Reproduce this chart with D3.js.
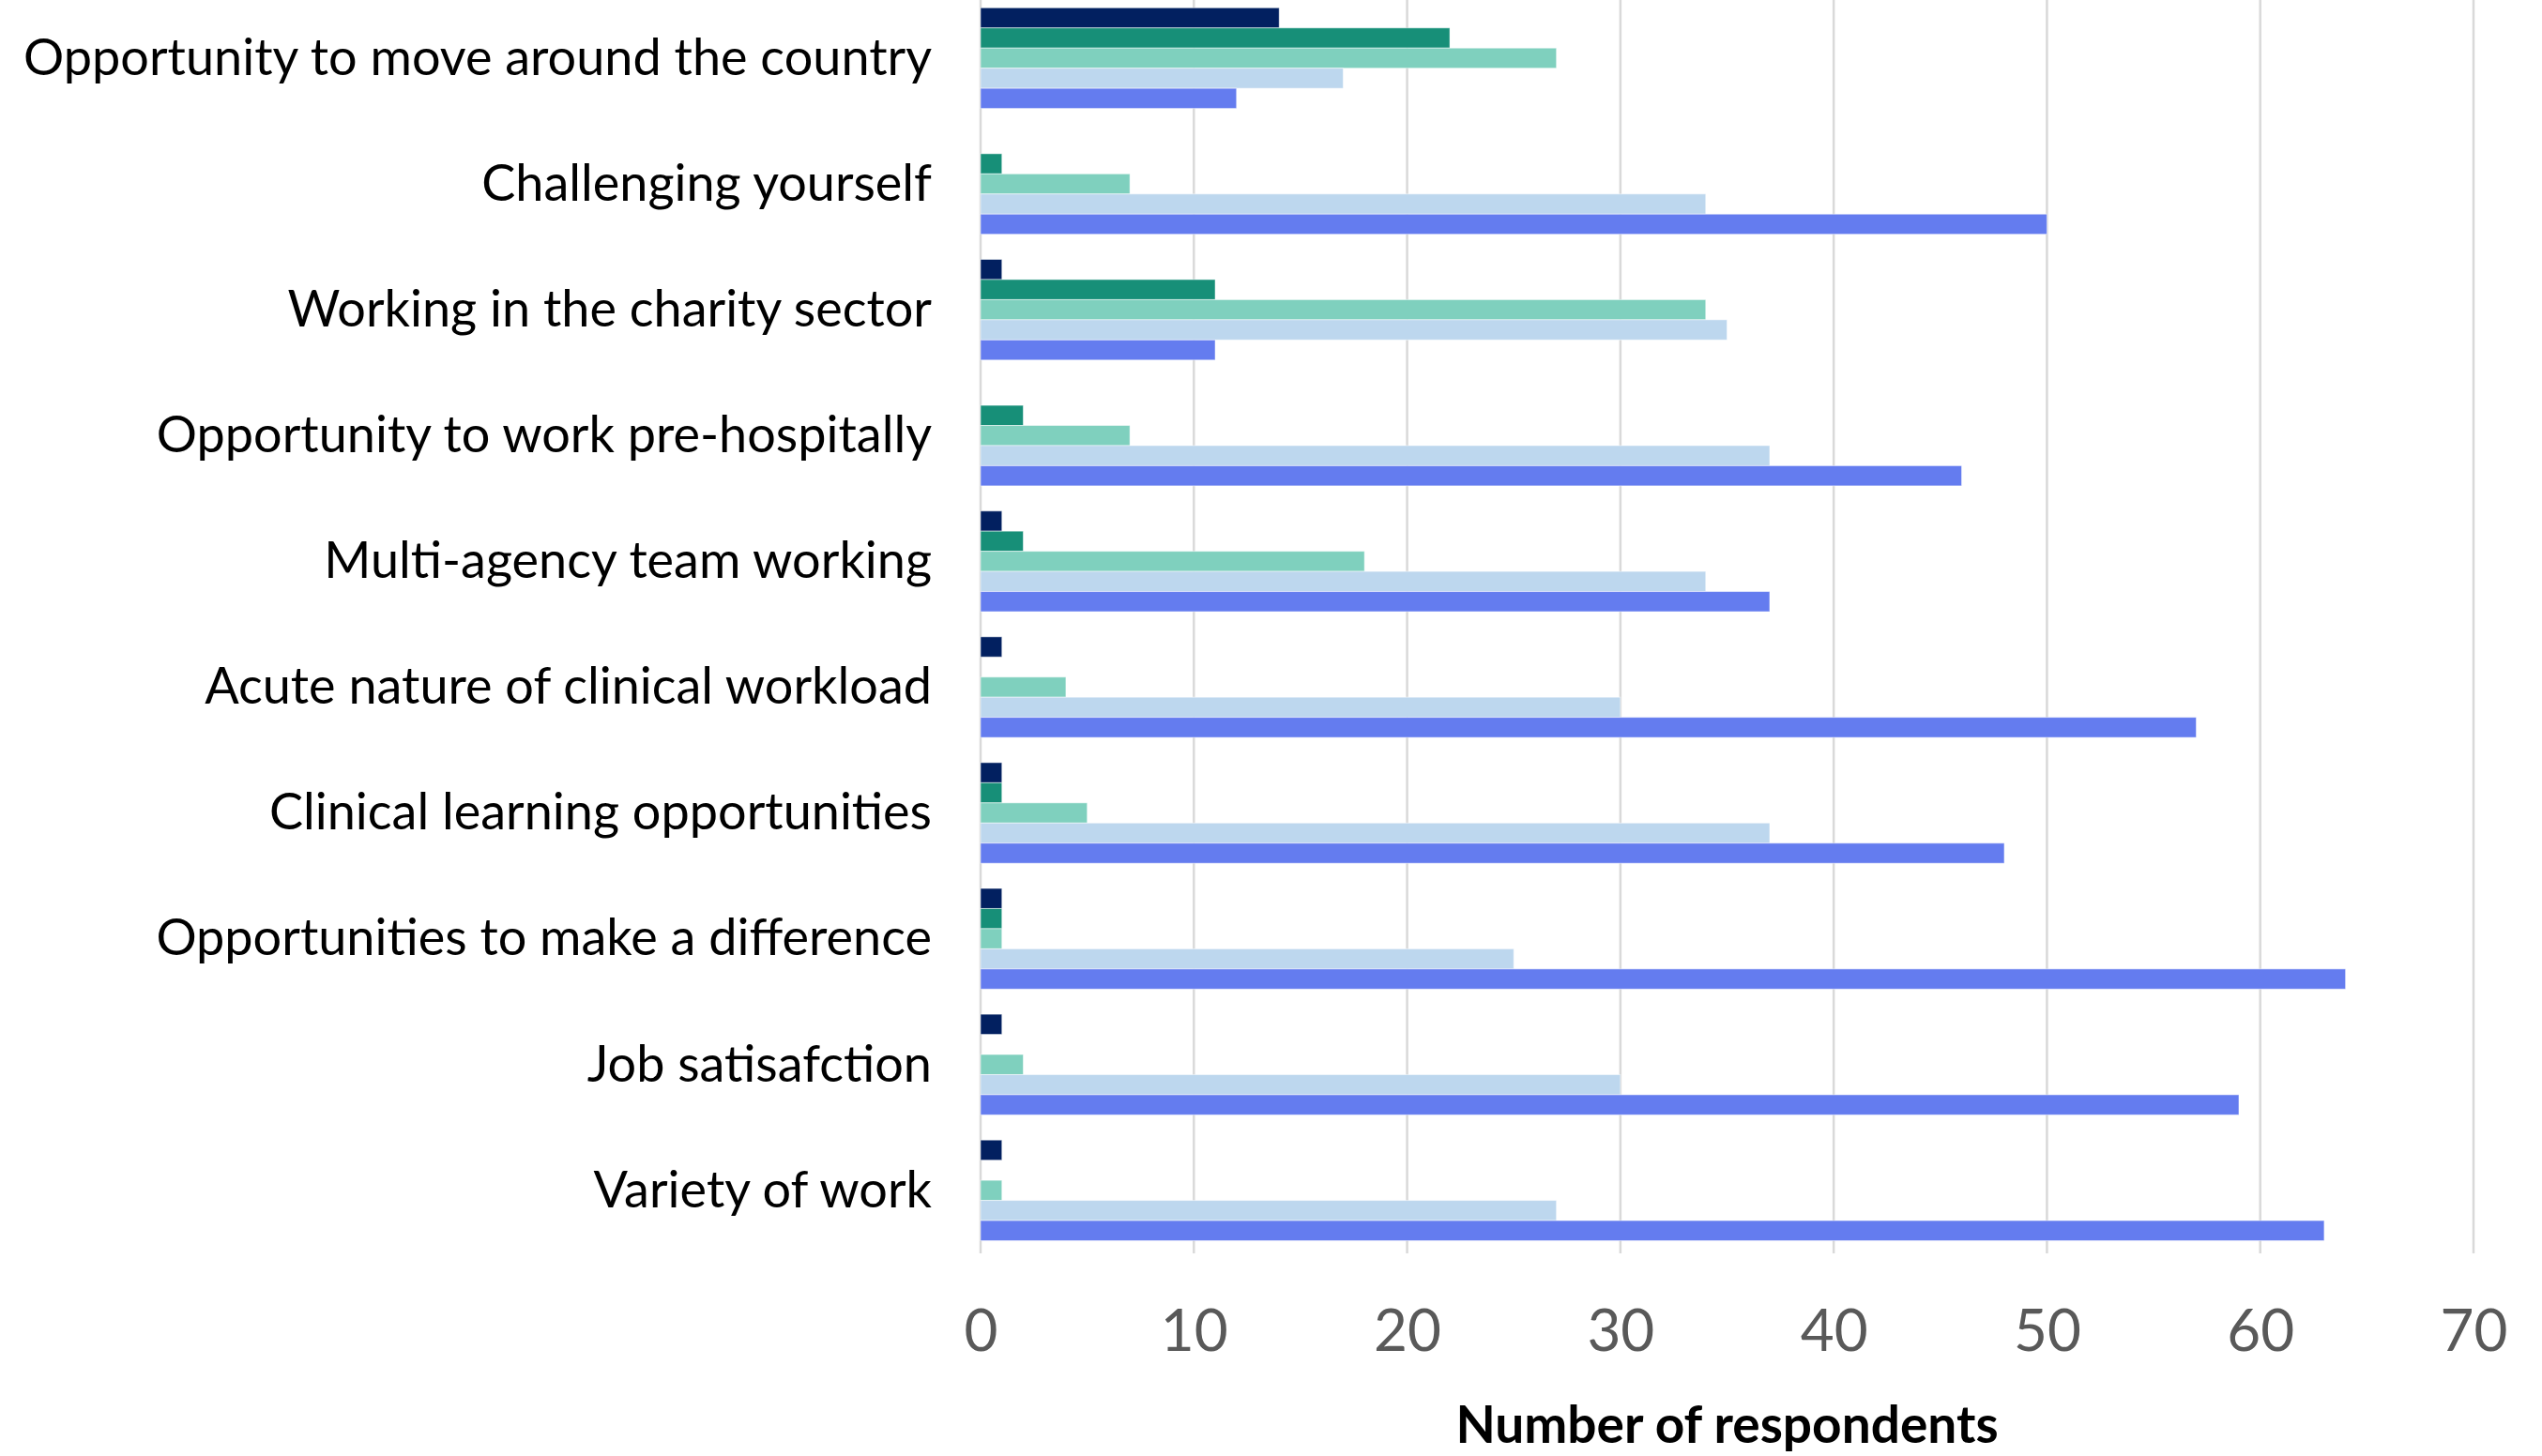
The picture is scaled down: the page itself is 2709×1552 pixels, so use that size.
<!DOCTYPE html>
<html>
<head>
<meta charset="utf-8">
<script src="https://cdn.jsdelivr.net/npm/d3@7"></script>
<style>
  html, body { margin: 0; padding: 0; background: #fff; }
  svg { display: block; }
</style>
</head>
<body>
<script>
// reasons, top to bottom
const reasons = [
  "Opportunity to move around the country",
  "Challenging yourself",
  "Working in the charity sector",
  "Opportunity to work pre-hospitally",
  "Multi-agency team working",
  "Acute nature of clinical workload",
  "Clinical learning opportunities",
  "Opportunities to make a difference",
  "Job satisafction",
  "Variety of work"
];

// series drawn top to bottom inside each group (no legend in the picture)
const seriesNames = ["Not at all important", "Slightly important", "Moderately important", "Important", "Very important"];
const seriesColors = ["#022060", "#178f78", "#7fd0be", "#bdd7ee", "#647cef"];

const notAtAll   = [14, 0, 1, 0, 1, 1, 1, 1, 1, 1];
const slightly   = [22, 1, 11, 2, 2, 0, 1, 1, 0, 0];
const moderately = [27, 7, 34, 7, 18, 4, 5, 1, 2, 1];
const important  = [17, 34, 35, 37, 34, 30, 37, 25, 30, 27];
const veryImp    = [12, 50, 11, 46, 37, 57, 48, 64, 59, 63];

const xTicks = [0, 10, 20, 30, 40, 50, 60, 70];

const width = 2709;
const height = 1552;
const margin = { top: 0, right: 73, bottom: 210, left: 1045 };

const seriesValues = [notAtAll, slightly, moderately, important, veryImp];
const data = reasons.map((r, i) => ({
  reason: r,
  values: seriesNames.map((s, j) => ({ key: s, value: seriesValues[j][i] }))
}));

const x = d3.scaleLinear()
  .domain([0, 70])
  .range([margin.left, width - margin.right]);

const y = d3.scaleBand()
  .domain(reasons)
  .range([-5.1, 1335.9])
  .paddingInner(0.2)
  .paddingOuter(0.1);

const y1 = d3.scaleBand()
  .domain(seriesNames)
  .range([0, y.bandwidth()]);

const color = d3.scaleOrdinal().domain(seriesNames).range(seriesColors);

const svg = d3.select("body").append("svg")
  .attr("width", width)
  .attr("height", height)
  .attr("viewBox", [0, 0, width, height]);

// vertical gridlines
svg.append("g")
  .selectAll("line")
  .data(xTicks)
  .join("line")
  .attr("x1", d => x(d))
  .attr("x2", d => x(d))
  .attr("y1", 0)
  .attr("y2", y.range()[1])
  .attr("stroke", "#d9d9d9")
  .attr("stroke-width", 2.5);

// bars
svg.append("g")
  .selectAll("g")
  .data(data)
  .join("g")
  .attr("transform", d => `translate(0,${y(d.reason)})`)
  .selectAll("rect")
  .data(d => d.values.filter(v => v.value > 0))
  .join("rect")
  .attr("x", x(0))
  .attr("y", d => y1(d.key))
  .attr("width", d => x(d.value) - x(0))
  .attr("height", y1.bandwidth())
  .attr("fill", d => color(d.key))
  .attr("stroke", "#ffffff")
  .attr("stroke-opacity", 0.5)
  .attr("stroke-width", 1);

// category labels
svg.append("g")
  .selectAll("text")
  .data(reasons)
  .join("text")
  .attr("x", x(0) - 52)
  .attr("y", d => y(d) + y.bandwidth() / 2)
  .attr("dy", "0.33em")
  .attr("text-anchor", "end")
  .attr("font-family", "Lato, 'Noto Sans', sans-serif")
  .attr("font-size", 54)
  .attr("fill", "#000")
  .text(d => d);

// x axis
const xAxis = g => g
  .attr("transform", `translate(0,${1418})`)
  .call(d3.axisBottom(x).tickValues(xTicks).tickSize(0).tickPadding(0))
  .call(g => g.select(".domain").remove())
  .call(g => g.selectAll("text")
    .attr("dy", "0.35em")
    .attr("font-family", "Lato, 'Noto Sans', sans-serif")
    .attr("font-size", 62)
    .attr("fill", "#595959"));

svg.append("g").call(xAxis);

// axis title
svg.append("text")
  .attr("x", (x.range()[0] + x.range()[1]) / 2)
  .attr("y", 1538)
  .attr("text-anchor", "middle")
  .attr("font-family", "Lato, 'Noto Sans', sans-serif")
  .attr("font-weight", "bold")
  .attr("font-size", 55)
  .attr("fill", "#000")
  .text("Number of respondents");
</script>
</body>
</html>
